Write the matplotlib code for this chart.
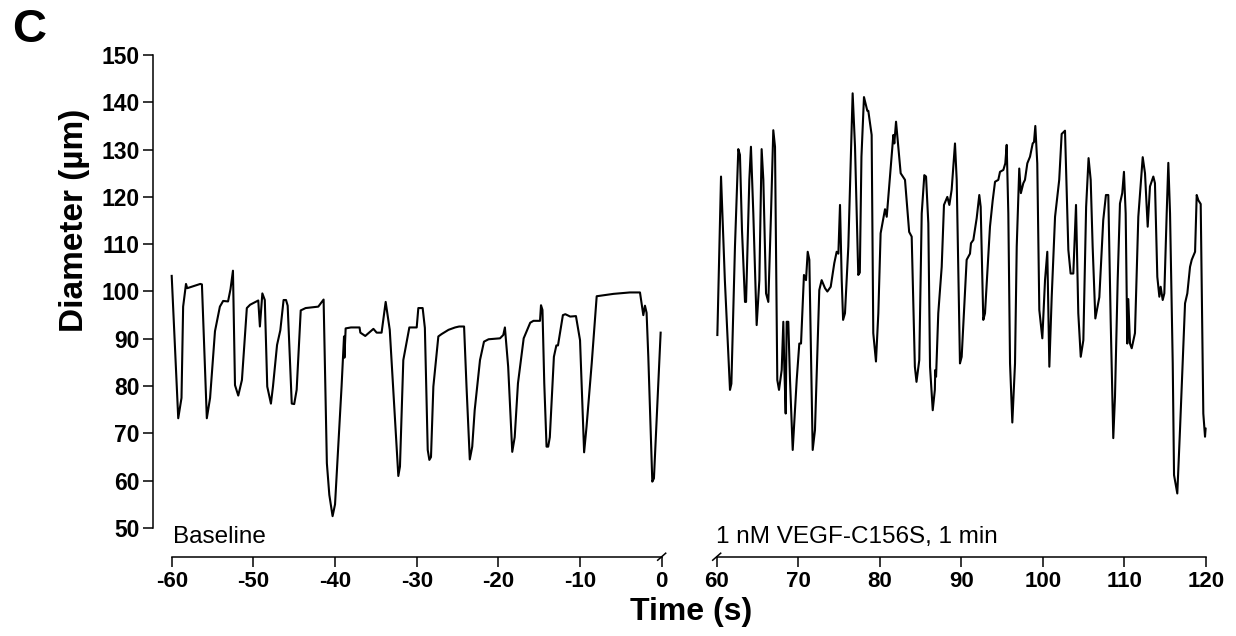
import matplotlib
matplotlib.use("Agg")
import matplotlib.pyplot as plt
from matplotlib.lines import Line2D

plt.rcParams['font.family'] = ['Liberation Sans', 'DejaVu Sans']

# ---------------- data ----------------
baseline_time = [-60.0, -59.2, -58.8, -58.6, -58.25, -58.1, -56.5, -56.3, -55.7, -55.3,
                 -54.7, -54.1, -53.7, -53.1, -52.8, -52.5, -52.25, -51.85, -51.4, -50.8,
                 -50.4, -49.4, -49.2, -48.9, -48.6, -48.3, -47.85, -47.6, -47.1, -46.7,
                 -46.3, -46.0, -45.8, -45.3, -45.0, -44.7, -44.2, -43.6, -42.05, -41.4,
                 -41.0, -40.7, -40.3, -40.0, -39.2, -38.9, -38.85, -38.7, -38.05, -37.0,
                 -36.9, -36.3, -35.3, -34.9, -34.3, -33.8, -33.3, -32.25, -32.05, -31.64,
                 -30.9, -30.0, -29.8, -29.27, -29.0, -28.65, -28.45, -28.25, -27.96, -27.35,
                 -26.95, -26.1, -25.3, -24.8, -24.2, -23.9, -23.5, -23.2, -22.9, -22.25,
                 -21.76, -21.2, -19.8, -19.4, -19.2, -18.8, -18.3, -18.0, -17.6, -16.9,
                 -16.1, -15.7, -14.9, -14.78, -14.6, -14.38, -14.1, -13.9, -13.7, -13.2,
                 -12.9, -12.7, -12.1, -11.8, -11.2, -10.5, -10.0, -9.5, -9.2, -8.57,
                 -7.96, -5.9, -3.9, -2.66, -2.25, -2.05, -1.85, -1.64, -1.15, -0.95,
                 -0.13]
baseline_diam = [103.3, 73.2, 77.5, 96.8, 101.6, 100.7, 101.6, 101.5, 73.2, 77.5,
                 91.6, 96.8, 98.0, 97.9, 100.5, 104.4, 80.2, 78.0, 81.3, 96.5,
                 97.2, 98.1, 92.6, 99.6, 98.2, 79.9, 76.3, 79.9, 88.7, 91.8,
                 98.2, 98.2, 97.0, 76.3, 76.2, 79.2, 96.0, 96.5, 96.8, 98.3,
                 63.7, 57.0, 52.5, 55.0, 79.9, 90.5, 86.0, 92.2, 92.4, 92.4,
                 91.3, 90.6, 92.1, 91.3, 91.3, 97.8, 91.9, 61.0, 63.0, 85.5,
                 92.4, 92.4, 96.5, 96.5, 92.3, 66.5, 64.4, 65.0, 79.9, 90.5,
                 91.0, 91.9, 92.4, 92.6, 92.6, 79.9, 64.5, 67.2, 74.9, 85.5,
                 89.4, 89.9, 90.1, 90.8, 92.4, 84.1, 66.1, 69.2, 80.6, 90.1,
                 93.4, 93.8, 93.8, 97.1, 96.1, 80.6, 67.2, 67.2, 69.2, 86.2,
                 88.6, 88.6, 95.0, 95.2, 94.7, 94.8, 89.7, 66.0, 71.5, 84.8,
                 99.0, 99.5, 99.8, 99.8, 95.0, 97.0, 95.5, 86.2, 59.8, 60.5,
                 91.3]

vegf_time = [60.08, 60.53, 60.7, 61.0, 61.63, 61.8, 62.24, 62.65, 62.85, 63.1,
             63.47, 63.6, 64.0, 64.2, 64.49, 64.9, 65.23, 65.51, 65.72, 66.05,
             66.33, 66.66, 66.94, 67.15, 67.43, 67.64, 67.97, 68.17, 68.29, 68.46,
             68.58, 68.78, 68.99, 69.32, 69.81, 70.13, 70.34, 70.7, 70.95, 71.16,
             71.36, 71.77, 72.05, 72.58, 72.87, 73.28, 73.57, 73.98, 74.42, 74.71,
             74.92, 75.12, 75.33, 75.5, 75.73, 76.14, 76.67, 76.96, 77.36, 77.55,
             77.75, 78.06, 78.47, 78.59, 79.0, 79.2, 79.53, 79.82, 80.1, 80.64,
             80.85, 81.25, 81.66, 81.78, 81.99, 82.27, 82.56, 83.09, 83.6, 83.91,
             84.3, 84.5, 84.84, 85.14, 85.46, 85.67, 85.95, 86.16, 86.49, 86.75,
             86.8, 86.9, 87.17, 87.59, 87.87, 88.28, 88.53, 88.81, 89.22, 89.43,
             89.83, 90.04, 90.65, 91.06, 91.18, 91.47, 91.88, 92.2, 92.37, 92.69,
             92.9, 93.51, 93.84, 94.13, 94.53, 94.74, 95.15, 95.39, 95.56, 95.76,
             95.97, 96.25, 96.58, 96.79, 97.1, 97.3, 97.6, 97.8, 98.09, 98.42,
             98.75, 98.91, 99.07, 99.31, 99.56, 99.93, 100.26, 100.54, 100.79, 101.08,
             101.49, 102.0, 102.3, 102.71, 103.12, 103.4, 103.73, 104.06, 104.34, 104.64,
             104.96, 105.3, 105.6, 105.86, 106.1, 106.43, 106.92, 107.4, 107.73, 108.02,
             108.31, 108.63, 108.84, 109.17, 109.45, 109.73, 109.94, 110.15, 110.35, 110.47,
             110.68, 110.89, 111.29, 111.7, 112.24, 112.52, 112.85, 113.13, 113.54, 113.74,
             114.03, 114.28, 114.44, 114.69, 114.89, 115.18, 115.38, 115.59, 115.92, 116.08,
             116.48, 116.81, 117.43, 117.71, 118.04, 118.25, 118.66, 118.86, 119.06, 119.35,
             119.67, 119.88, 119.95]
vegf_diam = [90.8, 124.3, 116.5, 102.4, 79.2, 80.5, 109.5, 130.1, 128.9, 113.0,
             97.8, 97.8, 123.6, 130.6, 116.5, 92.9, 102.4, 130.1, 123.6, 99.6,
             97.8, 116.5, 134.1, 130.6, 81.3, 79.2, 83.4, 93.6, 84.1, 74.2,
             93.6, 93.6, 81.3, 66.5, 81.3, 89.0, 89.0, 103.5, 102.4, 108.4,
             106.7, 66.5, 70.7, 100.3, 102.4, 100.7, 100.0, 101.0, 106.0, 108.4,
             108.0, 118.3, 102.4, 94.0, 95.4, 109.5, 141.9, 130.6, 103.5, 104.0,
             128.5, 141.1, 138.2, 138.2, 133.1, 91.2, 85.2, 95.4, 112.3, 117.4,
             115.8, 124.3, 133.1, 131.3, 135.9, 130.6, 125.0, 123.6, 112.6, 111.6,
             84.1, 80.9, 85.5, 116.5, 124.6, 124.3, 114.4, 84.1, 74.9, 79.2,
             83.4, 82.0, 95.4, 105.2, 118.3, 120.0, 118.3, 121.5, 131.3, 123.6,
             84.8, 86.2, 106.7, 108.0, 110.2, 110.9, 115.5, 120.4, 117.9, 94.0,
             95.4, 113.7, 119.2, 123.2, 123.6, 125.3, 125.7, 127.1, 131.0, 116.5,
             84.8, 72.3, 84.8, 109.5, 126.0, 120.8, 122.9, 123.6, 127.1, 128.5,
             131.3, 131.6, 135.0, 127.1, 96.1, 90.1, 102.4, 108.4, 84.1, 98.9,
             115.8, 123.6, 133.3, 134.0, 108.8, 103.8, 103.8, 118.3, 95.4, 86.2,
             89.7, 117.9, 128.2, 123.6, 109.5, 94.3, 98.8, 115.1, 120.4, 120.4,
             94.0, 69.0, 77.8, 102.4, 118.6, 120.8, 125.3, 116.5, 89.0, 98.4,
             89.0, 88.0, 91.2, 115.8, 128.4, 125.0, 113.7, 122.2, 124.3, 122.9,
             103.1, 98.9, 101.0, 98.2, 99.6, 116.5, 127.2, 116.5, 84.8, 61.2,
             57.3, 70.7, 97.5, 99.6, 105.2, 106.7, 108.4, 120.4, 119.3, 118.5,
             74.2, 69.3, 71.0]

y_ticks = [50, 60, 70, 80, 90, 100, 110, 120, 130, 140, 150]
left_ticks = [-60, -50, -40, -30, -20, -10, 0]
right_ticks = [60, 70, 80, 90, 100, 110, 120]

# ---------------- layout ----------------
W, H = 1236, 636
fig = plt.figure(figsize=(W / 100, H / 100), dpi=100)

axis_y_px = 556.7
top_px = 55.0
y_lo = 50 - (axis_y_px - 528.0) / 4.73
bottom = (H - axis_y_px) / H
height = (axis_y_px - top_px) / H

l1, r1 = 153.0, 661.7
ax1 = fig.add_axes([l1 / W, bottom, (r1 - l1) / W, height])
l2, r2 = 716.7, 1206.0
ax2 = fig.add_axes([l2 / W, bottom, (r2 - l2) / W, height])

px_per_s = (661.7 - 171.7) / 60.0
ax1.set_xlim(-60 - (171.7 - l1) / px_per_s, 0)
ax2.set_xlim(60, 120)
for ax in (ax1, ax2):
    ax.set_ylim(y_lo, 150)
    ax.patch.set_visible(False)
    for s in ('top', 'right'):
        ax.spines[s].set_visible(False)
    ax.spines['bottom'].set_linewidth(1.1)
    ax.spines['left'].set_linewidth(1.1)
    ax.tick_params(axis='x', direction='out', length=7, width=1.1, pad=3,
                   labelsize=16)

ax1.plot(baseline_time, baseline_diam, color='black', lw=1.5, clip_on=False)
ax2.plot(vegf_time, vegf_diam, color='black', lw=1.5, clip_on=False)

ax1.spines['left'].set_bounds(50, 150)
ax1.spines['bottom'].set_bounds(-60, 0)
ax1.set_yticks(y_ticks)
ax1.set_yticklabels([str(v) for v in y_ticks], fontweight='bold', fontsize=16.5)
ax1.tick_params(axis='y', direction='out', length=7.5, width=1.1, pad=2)
ax1.set_xticks(left_ticks)
ax1.set_xticklabels([str(v) for v in left_ticks], fontweight='bold', fontsize=16)

ax2.spines['left'].set_visible(False)
ax2.spines['bottom'].set_bounds(60, 120)
ax2.set_yticks([])
ax2.set_xticks(right_ticks)
ax2.set_xticklabels([str(v) for v in right_ticks], fontweight='bold', fontsize=16)

# break marks (slashes) on the x axis
for ax, xb in ((ax1, 0), (ax2, 60)):
    dx = 4.0 / px_per_s
    dy = 3.5 / 4.73
    ax.add_line(Line2D([xb - dx, xb + dx], [y_lo - dy, y_lo + dy],
                       color='black', lw=1.1, clip_on=False))

# ---------------- texts ----------------
fig.text(29 / W, 1 - 30 / H, 'C', fontsize=34, fontweight='bold',
         ha='center', va='center')
fig.text(75 / W, 1 - 220 / H, 'Diameter (µm)', fontsize=24, fontweight='bold',
         rotation=90, ha='center', va='center')
fig.text(691 / W, 1 - 612 / H, 'Time (s)', fontsize=23, fontweight='bold',
         ha='center', va='center')
fig.text(173 / W, 1 - 537 / H, 'Baseline', fontsize=17.5, ha='left', va='center')
fig.text(716 / W, 1 - 537 / H, '1 nM VEGF-C156S, 1 min', fontsize=17.5,
         ha='left', va='center')

fig.savefig('out.png', dpi=100)
